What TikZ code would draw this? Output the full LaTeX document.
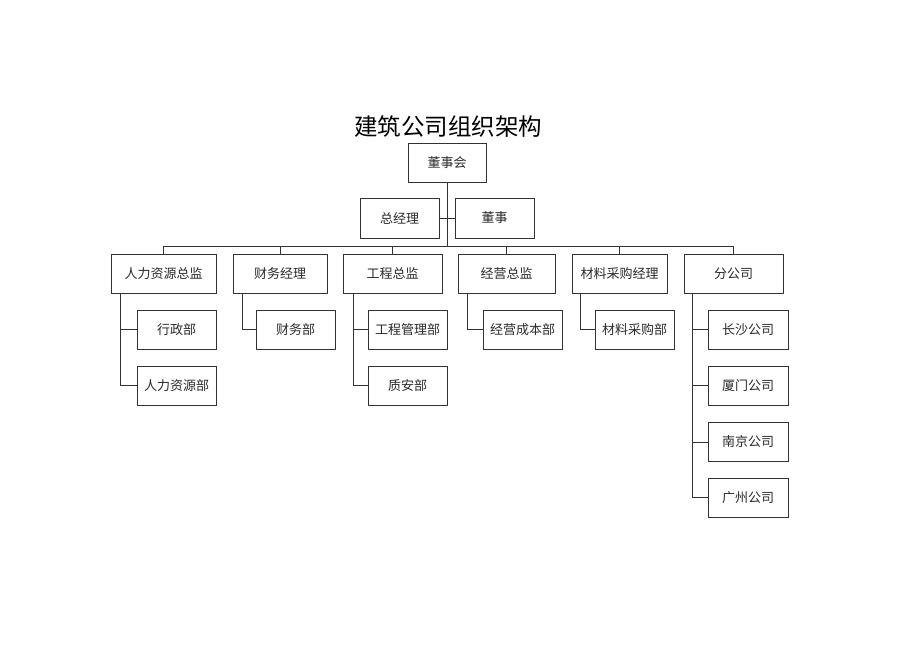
\documentclass[tikz,border=0pt]{standalone}
\usepackage{fontspec}
\newfontfamily\cjk{Noto Sans CJK SC}
\definecolor{ln}{HTML}{333333}
\definecolor{tx}{HTML}{2a2a2a}
\tikzset{
  box/.style={draw=ln, line width=1pt, fill=white, text=tx, minimum height=39pt, inner sep=0pt,
    font=\cjk\fontsize{13}{15}\selectfont},
  conn/.style={draw=ln, line width=0.9pt},
}
\begin{document}
\begin{tikzpicture}[x=1pt,y=-1pt]
\fill[white] (0,0) rectangle (920,651);
\useasboundingbox (0,0) rectangle (920,651);
\node[text=black, font=\cjk\fontsize{23.5}{26}\selectfont] (title) at (448,127) {建筑公司组织架构};
\node[box, minimum width=78pt] (dsh) at (447,162.5) {董事会};
\node[box, minimum width=79pt, minimum height=40pt] (zjl) at (399.5,218) {总经理};
\node[box, minimum width=79pt, minimum height=40pt] (ds) at (494.5,218) {董事};
\node[box, minimum width=105pt] (hr) at (163.5,273.5) {人力资源总监};
\node[box, minimum width=94pt] (cw) at (280,273.5) {财务经理};
\node[box, minimum width=99pt] (gc) at (392.5,273.5) {工程总监};
\node[box, minimum width=97pt] (jy) at (506.5,273.5) {经营总监};
\node[box, minimum width=95pt] (cl) at (619.5,273.5) {材料采购经理};
\node[box, minimum width=99pt] (fgs) at (733.5,273.5) {分公司};
\node[box, minimum width=79pt] (xz) at (176.5,329.5) {行政部};
\node[box, minimum width=79pt] (rlzy) at (176.5,385.5) {人力资源部};
\node[box, minimum width=79pt] (cwb) at (295.5,329.5) {财务部};
\node[box, minimum width=79pt] (gcgl) at (407.5,329.5) {工程管理部};
\node[box, minimum width=79pt] (za) at (407.5,385.5) {质安部};
\node[box, minimum width=79pt] (jycb) at (522.5,329.5) {经营成本部};
\node[box, minimum width=79pt] (clcg) at (634.5,329.5) {材料采购部};
\node[box, minimum width=80pt] (cs) at (748,329.5) {长沙公司};
\node[box, minimum width=80pt] (xm) at (748,385.5) {厦门公司};
\node[box, minimum width=80pt] (nj) at (748,442) {南京公司};
\node[box, minimum width=80pt] (gz) at (748,497.5) {广州公司};
\coordinate (busL) at (163,246);
\coordinate (busR) at (733.5,246);
\draw[conn] (dsh.south) -- (dsh.south |- busL);
\draw[conn] (zjl.east) -- (ds.west);
\draw[conn] (busL) -- (busR);
\foreach \n in {hr,cw,gc,jy,cl,fgs} \draw[conn] (\n.north) -- (\n.north |- busL);
\draw[conn] ([xshift=10pt]hr.south west) |- (xz.west);
\draw[conn] ([xshift=10pt]hr.south west) |- (rlzy.west);
\draw[conn] ([xshift=10pt]cw.south west) |- (cwb.west);
\draw[conn] ([xshift=11pt]gc.south west) |- (gcgl.west);
\draw[conn] ([xshift=11pt]gc.south west) |- (za.west);
\draw[conn] ([xshift=10pt]jy.south west) |- (jycb.west);
\draw[conn] ([xshift=9pt]cl.south west) |- (clcg.west);
\foreach \n in {cs,xm,nj,gz} \draw[conn] ([xshift=9pt]fgs.south west) |- (\n.west);
\end{tikzpicture}
\end{document}
